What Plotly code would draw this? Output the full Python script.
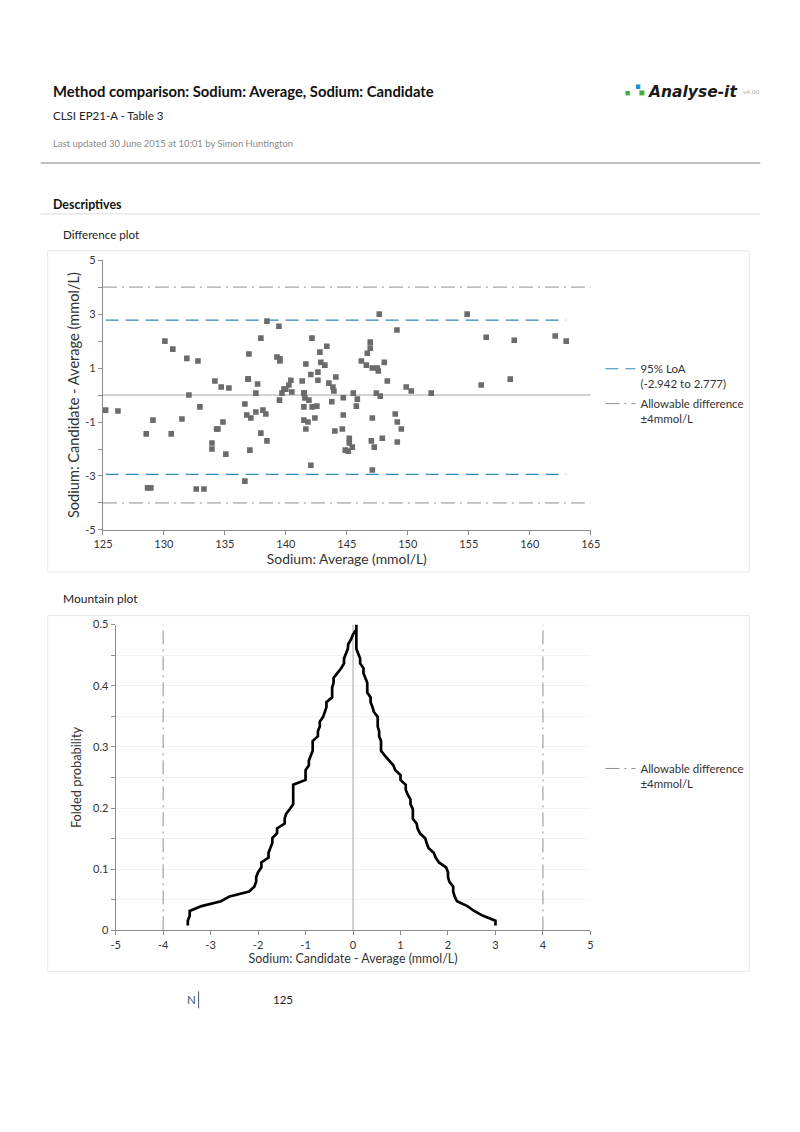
import numpy as np
import plotly.graph_objects as go

# ---------------- data ----------------
avg_values = [
    125.22, 126.23, 130.08, 130.73, 131.88, 132.79, 132.05, 132.95, 129.10, 131.48,
    128.55, 130.60, 128.66, 128.93, 132.65, 133.28, 134.18, 134.70, 135.33, 134.84,
    134.32, 134.43, 133.94, 133.94, 135.08, 136.64, 136.80, 137.13, 137.54, 137.54,
    137.68, 136.89, 136.92, 136.97, 137.95, 138.45, 139.43, 139.27, 139.51, 139.51,
    138.12, 138.36, 137.95, 138.45, 137.05, 136.64, 139.48, 139.68, 139.84, 140.00,
    140.25, 140.41, 140.49, 141.34, 141.48, 141.56, 141.64, 141.89, 141.48, 142.16,
    142.54, 141.48, 141.81, 142.38, 141.64, 142.05, 142.14, 142.79, 142.87, 143.20,
    143.36, 142.63, 142.05, 142.63, 143.53, 143.86, 143.94, 144.10, 143.77, 144.02,
    144.71, 144.71, 144.63, 145.20, 145.20, 144.87, 145.12, 145.45, 145.53, 145.86,
    145.78, 146.19, 146.60, 146.68, 146.92, 146.92, 147.09, 147.50, 147.58, 147.66,
    148.07, 148.32, 147.42, 147.74, 147.09, 147.01, 147.25, 147.91, 147.09, 148.97,
    149.14, 149.47, 149.14, 149.11, 149.87, 150.28, 151.92, 154.87, 156.02, 156.43,
    158.40, 158.73, 162.09, 162.99, 141.50,
]
diff_values = [
    -0.56, -0.59, 2.00, 1.70, 1.36, 1.26, 0.00, -0.44, -0.93, -0.89,
    -1.44, -1.44, -3.44, -3.44, -3.48, -3.48, 0.52, 0.30, 0.26, -1.00,
    -1.26, -1.26, -1.78, -2.00, -2.19, -0.33, -0.74, -0.85, -0.63, 0.07,
    0.41, 0.59, 0.59, 1.52, 2.11, 2.74, 2.55, 1.41, 1.26, 1.34,
    -0.56, -0.70, -1.41, -1.70, -2.04, -3.19, -0.19, 0.07, 0.22, 0.22,
    0.37, 0.55, 0.11, 0.52, 0.07, -0.11, 1.15, -0.19, -0.44, -0.44,
    -0.41, -0.93, -1.00, -0.85, -1.26, -2.60, 2.11, 1.59, 1.21, 1.11,
    1.81, 0.85, 0.76, 0.55, 0.44, 0.30, 0.15, 0.67, -0.25, -1.33,
    -0.10, -0.74, -1.26, -1.60, -1.78, -2.04, -2.08, -1.93, 0.07, -0.15,
    -0.41, 1.26, 1.11, 1.55, 1.74, 1.96, 1.00, 1.00, 0.89, 3.00,
    1.21, 0.52, 0.07, -0.04, -0.85, -1.70, -1.93, -1.60, -2.78, -0.70,
    -1.00, -1.26, -1.74, 2.41, 0.30, 0.15, 0.07, 3.00, 0.37, 2.14,
    0.59, 2.03, 2.19, 2.00, 0.07,
]
loa_lower = -2.942
loa_upper = 2.777
allowable = 4.0
n_obs = 125

diff_xticks = [125, 130, 135, 140, 145, 150, 155, 160, 165]
diff_yticks = [-5, -3, -1, 1, 3, 5]
diff_ytick_labels = ["-5", "-3", "-1", "1", "3", "5"]
mtn_xticks = [-5, -4, -3, -2, -1, 0, 1, 2, 3, 4, 5]
mtn_xtick_labels = ["-5", "-4", "-3", "-2", "-1", "0", "1", "2", "3", "4", "5"]
mtn_yticks = [0, 0.1, 0.2, 0.3, 0.4, 0.5]
mtn_ytick_labels = ["0", "0.1", "0.2", "0.3", "0.4", "0.5"]

# mountain (folded empirical cumulative) from the differences
d_sorted = np.sort(np.array(diff_values))
ranks = np.arange(1, len(d_sorted) + 1) / (len(d_sorted) + 1)
folded = np.where(ranks <= 0.5, ranks, 1 - ranks)

# ---------------- helpers (target picture pixel -> paper) ----------------
OFF = 8                      # default body margin of the page
W, H = 800 - 2 * OFF, 1132 - 2 * OFF
SX, AX = 0.975, 9.5          # measured page -> picture mapping
SY, AY = 0.989, 6.1
def px(x):
    return ((x - AX) / SX - OFF) / W
def py(y):
    return 1 - ((y - AY) / SY - OFF) / H

FONT = "Lato"
GREY_AXIS = "#8c8c8c"
TEXT = "#333333"
LOA_COLOR = "#2f8bb8"
ALLOW_COLOR = "#8f8f8f"
DASHDOT = "14px,5px,2px,5px"

loa_name = "95% LoA<br>({:.3f} to {:.3f})".format(loa_lower, loa_upper)

fig = go.Figure()

# difference plot
fig.add_trace(go.Scatter(
    x=[125, 165], y=[0, 0], mode="lines", line=dict(color="#a6a6a6", width=1),
    showlegend=False, hoverinfo="skip", xaxis="x", yaxis="y"))
fig.add_trace(go.Scatter(
    x=[min(avg_values), max(avg_values)], y=[loa_upper, loa_upper], mode="lines",
    line=dict(color=LOA_COLOR, width=1.2, dash="13px,7px"), name=loa_name,
    legendgroup="loa", showlegend=True, legend="legend", xaxis="x", yaxis="y"))
fig.add_trace(go.Scatter(
    x=[min(avg_values), max(avg_values)], y=[loa_lower, loa_lower], mode="lines",
    line=dict(color=LOA_COLOR, width=1.2, dash="13px,7px"),
    legendgroup="loa", showlegend=False, xaxis="x", yaxis="y"))
fig.add_trace(go.Scatter(
    x=[125, 165], y=[allowable, allowable], mode="lines",
    line=dict(color=ALLOW_COLOR, width=1, dash=DASHDOT),
    name="Allowable difference<br>±4mmol/L", legendgroup="allow",
    showlegend=True, legend="legend", xaxis="x", yaxis="y"))
fig.add_trace(go.Scatter(
    x=[125, 165], y=[-allowable, -allowable], mode="lines",
    line=dict(color=ALLOW_COLOR, width=1, dash=DASHDOT),
    legendgroup="allow", showlegend=False, xaxis="x", yaxis="y"))
fig.add_trace(go.Scatter(
    x=avg_values, y=diff_values, mode="markers",
    marker=dict(symbol="square", size=5.6, color="#6b6b6b"),
    showlegend=False, xaxis="x", yaxis="y"))

# mountain plot
fig.add_trace(go.Scatter(
    x=[0, 0], y=[0, 0.5], mode="lines", line=dict(color="#a6a6a6", width=1),
    showlegend=False, hoverinfo="skip", xaxis="x2", yaxis="y2"))
fig.add_trace(go.Scatter(
    x=[-allowable, -allowable], y=[0, 0.5], mode="lines",
    line=dict(color=ALLOW_COLOR, width=1, dash=DASHDOT),
    name="Allowable difference<br>±4mmol/L", legendgroup="allow2",
    showlegend=True, legend="legend2", xaxis="x2", yaxis="y2"))
fig.add_trace(go.Scatter(
    x=[allowable, allowable], y=[0, 0.5], mode="lines",
    line=dict(color=ALLOW_COLOR, width=1, dash=DASHDOT),
    legendgroup="allow2", showlegend=False, xaxis="x2", yaxis="y2"))
fig.add_trace(go.Scatter(
    x=d_sorted, y=folded, mode="lines", line=dict(color="black", width=2.7),
    showlegend=False, xaxis="x2", yaxis="y2"))

axis_common = dict(showline=True, linecolor=GREY_AXIS, linewidth=1, ticks="outside",
                   ticklen=4, tickcolor=GREY_AXIS, zeroline=False,
                   tickfont=dict(family=FONT, size=11, color=TEXT))

fig.update_layout(
    width=W, height=H, margin=dict(l=0, r=0, t=0, b=0),
    paper_bgcolor="white", plot_bgcolor="white",
    font=dict(family=FONT, color=TEXT),
    xaxis=dict(domain=[px(102.3), px(590.3)], range=[125, 165], tickvals=diff_xticks,
               showgrid=False, anchor="y",
               title=dict(text="Sodium: Average (mmol/L)", standoff=3,
                          font=dict(family=FONT, size=13.9, color=TEXT)), **axis_common),
    yaxis=dict(domain=[py(529.3), py(259.3)], range=[-5, 5], tickvals=diff_yticks,
               ticktext=diff_ytick_labels, showgrid=False, anchor="x",
               minor=dict(dtick=1, ticks="outside", ticklen=4, tickcolor=GREY_AXIS, showgrid=False),
               title=dict(text="Sodium: Candidate - Average (mmol/L)", standoff=2,
                          font=dict(family=FONT, size=14.6, color=TEXT)), **axis_common),
    xaxis2=dict(domain=[px(115), px(590)], range=[-5, 5], tickvals=mtn_xticks,
                ticktext=mtn_xtick_labels, showgrid=False, anchor="y2",
                title=dict(text="Sodium: Candidate - Average (mmol/L)", standoff=3,
                           font=dict(family=FONT, size=12.4, color=TEXT)), **axis_common),
    yaxis2=dict(domain=[py(930), py(624)], range=[0, 0.5], tickvals=mtn_yticks,
                ticktext=mtn_ytick_labels, anchor="x2",
                showgrid=True, gridcolor="#f2f2f2",
                minor=dict(dtick=0.05, ticks="outside", ticklen=4, tickcolor=GREY_AXIS,
                           showgrid=True, gridcolor="#f2f2f2"),
                title=dict(text="Folded probability", standoff=8,
                           font=dict(family=FONT, size=12.8, color=TEXT)), **axis_common),
    legend=dict(x=px(600), y=py(354), xanchor="left", yanchor="top", valign="top",
                font=dict(family=FONT, size=11.5, color=TEXT), bgcolor="rgba(0,0,0,0)",
                tracegroupgap=2, itemwidth=30),
    legend2=dict(x=px(600), y=py(754), xanchor="left", yanchor="top", valign="top",
                 font=dict(family=FONT, size=11.5, color=TEXT), bgcolor="rgba(0,0,0,0)",
                 itemwidth=30),
)

shapes = [
    dict(type="line", xref="paper", yref="paper", x0=px(40), x1=px(760), y0=py(162), y1=py(162),
         line=dict(color="#bfbfbf", width=2)),
    dict(type="line", xref="paper", yref="paper", x0=px(40), x1=px(760), y0=py(213), y1=py(213),
         line=dict(color="#dcdcdc", width=1)),
    dict(type="rect", xref="paper", yref="paper", x0=px(47), x1=px(749), y0=py(571.5), y1=py(250),
         line=dict(color="#e8e8e8", width=1)),
    dict(type="rect", xref="paper", yref="paper", x0=px(47), x1=px(749), y0=py(971), y1=py(615),
         line=dict(color="#e8e8e8", width=1)),
    dict(type="rect", xref="paper", yref="paper", x0=px(625), x1=px(629.5), y0=py(94.5), y1=py(90),
         line=dict(width=0), fillcolor="#3fae49"),
    dict(type="rect", xref="paper", yref="paper", x0=px(635.5), x1=px(640), y0=py(88), y1=py(83.5),
         line=dict(width=0), fillcolor="#1f8fd6"),
    dict(type="rect", xref="paper", yref="paper", x0=px(639), x1=px(644), y0=py(94.5), y1=py(89.5),
         line=dict(width=0), fillcolor="#3fae49"),
    dict(type="line", xref="paper", yref="paper", x0=px(198), x1=px(198), y0=py(1008), y1=py(991),
         line=dict(color="#44546a", width=1)),
]
fig.update_layout(shapes=shapes)

def ann(text, x, y, size, color=TEXT, bold=False, italic=False, xanchor="left", family=FONT):
    if bold:
        text = "<b>" + text + "</b>"
    if italic:
        text = "<i>" + text + "</i>"
    return dict(text=text, x=px(x), y=py(y), xref="paper", yref="paper",
                xanchor=xanchor, yanchor="middle", showarrow=False,
                font=dict(family=family, size=size, color=color))

annotations = [
    ann("Method comparison: Sodium: Average, Sodium: Candidate", 50, 90, 14.8, "#111111", bold=True),
    ann("CLSI EP21-A - Table 3", 50, 115, 11.5, "#222222"),
    ann("Last updated 30 June 2015 at 10:01 by Simon Huntington", 50, 143, 9.45, "#8a8a8a"),
    ann("Analyse-it", 646, 91, 15.5, "#1a1a1a", bold=True, italic=True, family="DejaVu Sans"),
    ann("v4.00", 741, 91, 6.5, "#b0b0b0"),
    ann("Descriptives", 50, 204, 12.4, "#111111", bold=True),
    ann("Difference plot", 60, 234, 11.6, "#222222"),
    ann("Mountain plot", 60, 598, 12, "#222222"),
    ann("N", 184, 999, 11.5, "#44546a"),
    ann(str(n_obs), 270, 999, 11.5, "#222222"),
]
fig.update_layout(annotations=annotations)

fig.write_html("out.html", config={"displayModeBar": False})
